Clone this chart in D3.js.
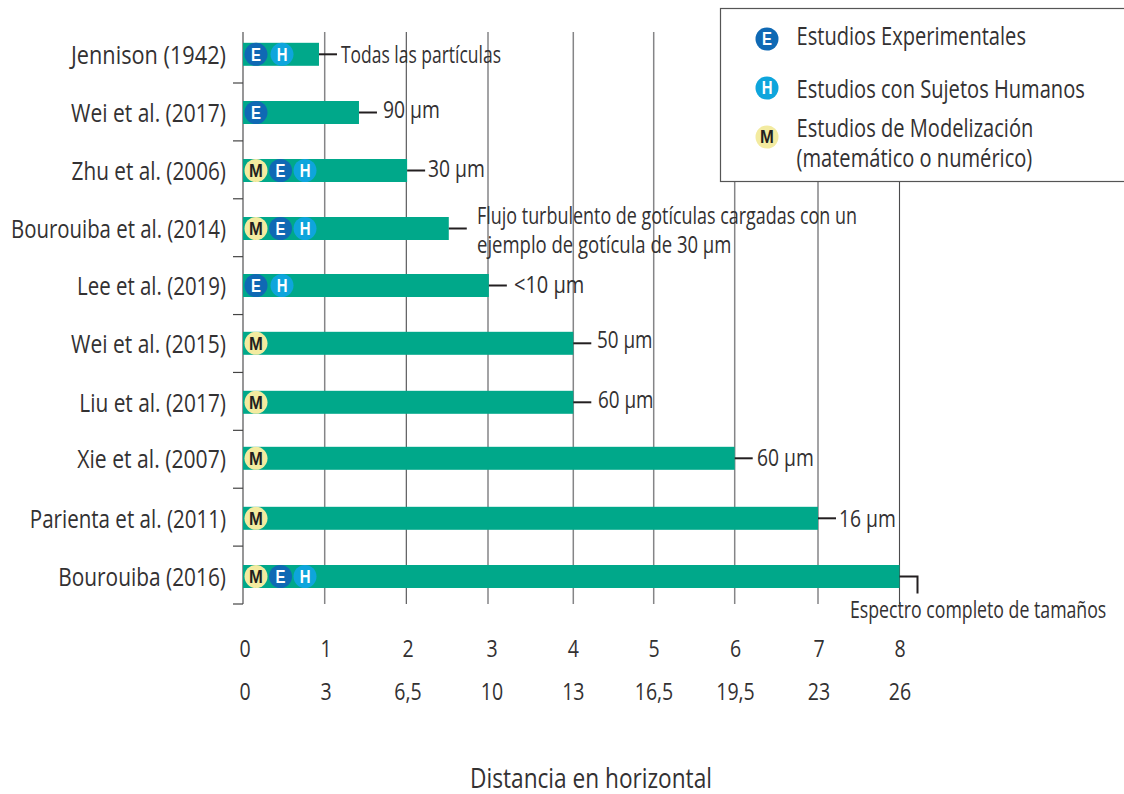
<!DOCTYPE html>
<html><head><meta charset="utf-8">
<script src="https://cdn.jsdelivr.net/npm/d3@7"></script>
<style>
html,body{margin:0;padding:0;background:#fff}
svg{display:block}
text{font-family:"Open Sans",sans-serif;fill:#333132}
</style></head><body>
<script>
const studies=["Jennison (1942)","Wei et al. (2017)","Zhu et al. (2006)","Bourouiba et al. (2014)","Lee et al. (2019)","Wei et al. (2015)","Liu et al. (2017)","Xie et al. (2007)","Parienta et al. (2011)","Bourouiba (2016)"];
const distances=[0.93,1.42,2.01,2.52,3.01,4,4,6,7,8];
const badges=[["E","H"],["E"],["M","E","H"],["M","E","H"],["E","H"],["M"],["M"],["M"],["M"],["M","E","H"]];
const sizeNotes=["Todas las partículas","90 µm","30 µm","Flujo turbulento de gotículas cargadas con un|ejemplo de gotícula de 30 µm","<10 µm","50 µm","60 µm","60 µm","16 µm","Espectro completo de tamaños"];
const ticksTop=["0","1","2","3","4","5","6","7","8"];
const ticksBottom=["0","3","6,5","10","13","16,5","19,5","23","26"];
const legendKeys=["E","H","M"];
const legendTexts=["Estudios Experimentales","Estudios con Sujetos Humanos","Estudios de Modelización|(matemático o numérico)"];
const axisTitle="Distancia en horizontal";
const badgeColor={E:"#0f69b4",H:"#0ea5dc",M:"#f3eba0"};
const badgeText={E:"#fff",H:"#fff",M:"#231f20"};

const W=1124,H=794;
const svg=d3.select("body").append("svg").attr("width",W).attr("height",H);
const x=d3.scaleLinear().domain(d3.range(9)).range([243,324.7,406.3,488,573.3,653.7,734.7,818,899.5]);
const y=d3.scaleLinear().domain(d3.range(10)).range([54.3,112.5,170.5,228.5,285.5,343.3,402.3,458.3,518.3,576.5]);
const tickY=d3.scaleLinear().domain([0,9]).range([83,604]);
const barH=23;

// condensed text helper: the installed fonts have no narrow cut
function put(g,px,py,str,size,sx,anchor){
  return g.append("text").attr("transform",`translate(${px},${py}) scale(${sx},1)`)
    .attr("text-anchor",anchor||"start").style("font-size",size+"px").text(str);
}
// grid
const darkGrid=new Set([2,8]);
svg.append("g").selectAll("line").data(d3.range(1,9)).join("line")
 .attr("x1",d=>x(d)).attr("x2",d=>x(d)).attr("y1",32).attr("y2",604)
 .attr("stroke",d=>darkGrid.has(d)?"#4b4b4d":"#858587").attr("stroke-width",d=>darkGrid.has(d)?1.1:1.5);
// y axis
const ag=svg.append("g");
ag.append("line").attr("x1",243).attr("x2",243).attr("y1",32).attr("y2",604).attr("stroke","#6a6a6c").attr("stroke-width",1.4);
ag.selectAll(".t").data(d3.range(10)).join("line").attr("class","t")
 .attr("x1",233).attr("x2",243).attr("y1",d=>tickY(d)).attr("y2",d=>tickY(d))
 .attr("stroke","#444").attr("stroke-width",1.2);
// labels
const labelScale=[.869,.84,.83,.816,.818,.84,.835,.846,.822,.835];
const lab=svg.append("g");
studies.forEach((s,i)=>put(lab,226,y(i)+9.7,s,25,labelScale[i],"end"));
// bars
svg.append("g").selectAll("rect").data(studies).join("rect")
 .attr("x",x(0)).attr("y",(d,i)=>y(i)-barH/2).attr("height",barH)
 .attr("width",(d,i)=>x(distances[i])-x(0)).attr("fill","#00a88a");
// badges
function badge(g,k,cx,cyy){
  g.append("circle").attr("cx",cx).attr("cy",cyy).attr("r",11.5).attr("fill",badgeColor[k]);
  g.append("text").attr("transform",`translate(${cx},${cyy+6.2}) scale(${k==="M"?0.95:0.85},1)`).attr("text-anchor","middle")
   .style("font-family",'"Liberation Sans",sans-serif').style("font-weight","700")
   .style("font-size","17.5px").style("fill",badgeText[k]).text(k);
}
studies.forEach((s,i)=>{
  const g=svg.append("g");
  const seq=badges[i];
  const step=seq.length===3?24.5:26;
  seq.forEach((k,j)=>badge(g,k,256+j*step,y(i)));
});
// leaders and notes
const noteX=[341,383,428,477,514,597,598,757,839];
const noteDy=[9,5.5,6,0,7.5,5,6,7.7,8.4];
const noteScale=[.76,.84,.84,.78,.87,.82,.82,.84,.84,.77];
const ng=svg.append("g");
studies.forEach((s,i)=>{
  const x0=x(distances[i]);
  if(i===9){
    ng.append("path").attr("d",`M${x0},${y(i)}H${x0+18}V${y(i)+17}`).attr("fill","none").attr("stroke","#231f20").attr("stroke-width",2);
    put(ng,850,618.3,sizeNotes[i],23,noteScale[i]);
    return;
  }
  ng.append("line").attr("x1",x0).attr("x2",x0+18).attr("y1",y(i)).attr("y2",y(i)).attr("stroke","#231f20").attr("stroke-width",2);
  const lines=sizeNotes[i].split("|");
  if(lines.length>1){
    lines.forEach((l,j)=>put(ng,noteX[i],224.3+j*28.7,l,23,j?0.805:0.78));
  } else {
    put(ng,noteX[i],y(i)+noteDy[i],lines[0],23,noteScale[i]);
  }
});
// ticks
const tickNudge=[2,1.3,1.7,4,0,0.3,0.8,1,0.5];
const tg=svg.append("g");
ticksTop.forEach((t,i)=>put(tg,x(i)+tickNudge[i],657,t,23,0.85,"middle"));
ticksBottom.forEach((t,i)=>put(tg,x(i)+tickNudge[i],700,t,23,0.85,"middle"));
put(svg,591,788,axisTitle,27,0.839,"middle");
// legend
const lg=svg.append("g");
lg.append("rect").attr("x",720.5).attr("y",8.5).attr("width",W).attr("height",173).attr("fill","#fff").attr("stroke","#555").attr("stroke-width",1.2);
const legendY=[39,88,137];
const legendBase=[45,98,137];
legendKeys.forEach((k,i)=>{
  badge(lg,k,767,legendY[i]);
  legendTexts[i].split("|").forEach((l,j)=>put(lg,796.5,legendBase[i]+j*30,l,25,0.804));
});
</script>
</body></html>
